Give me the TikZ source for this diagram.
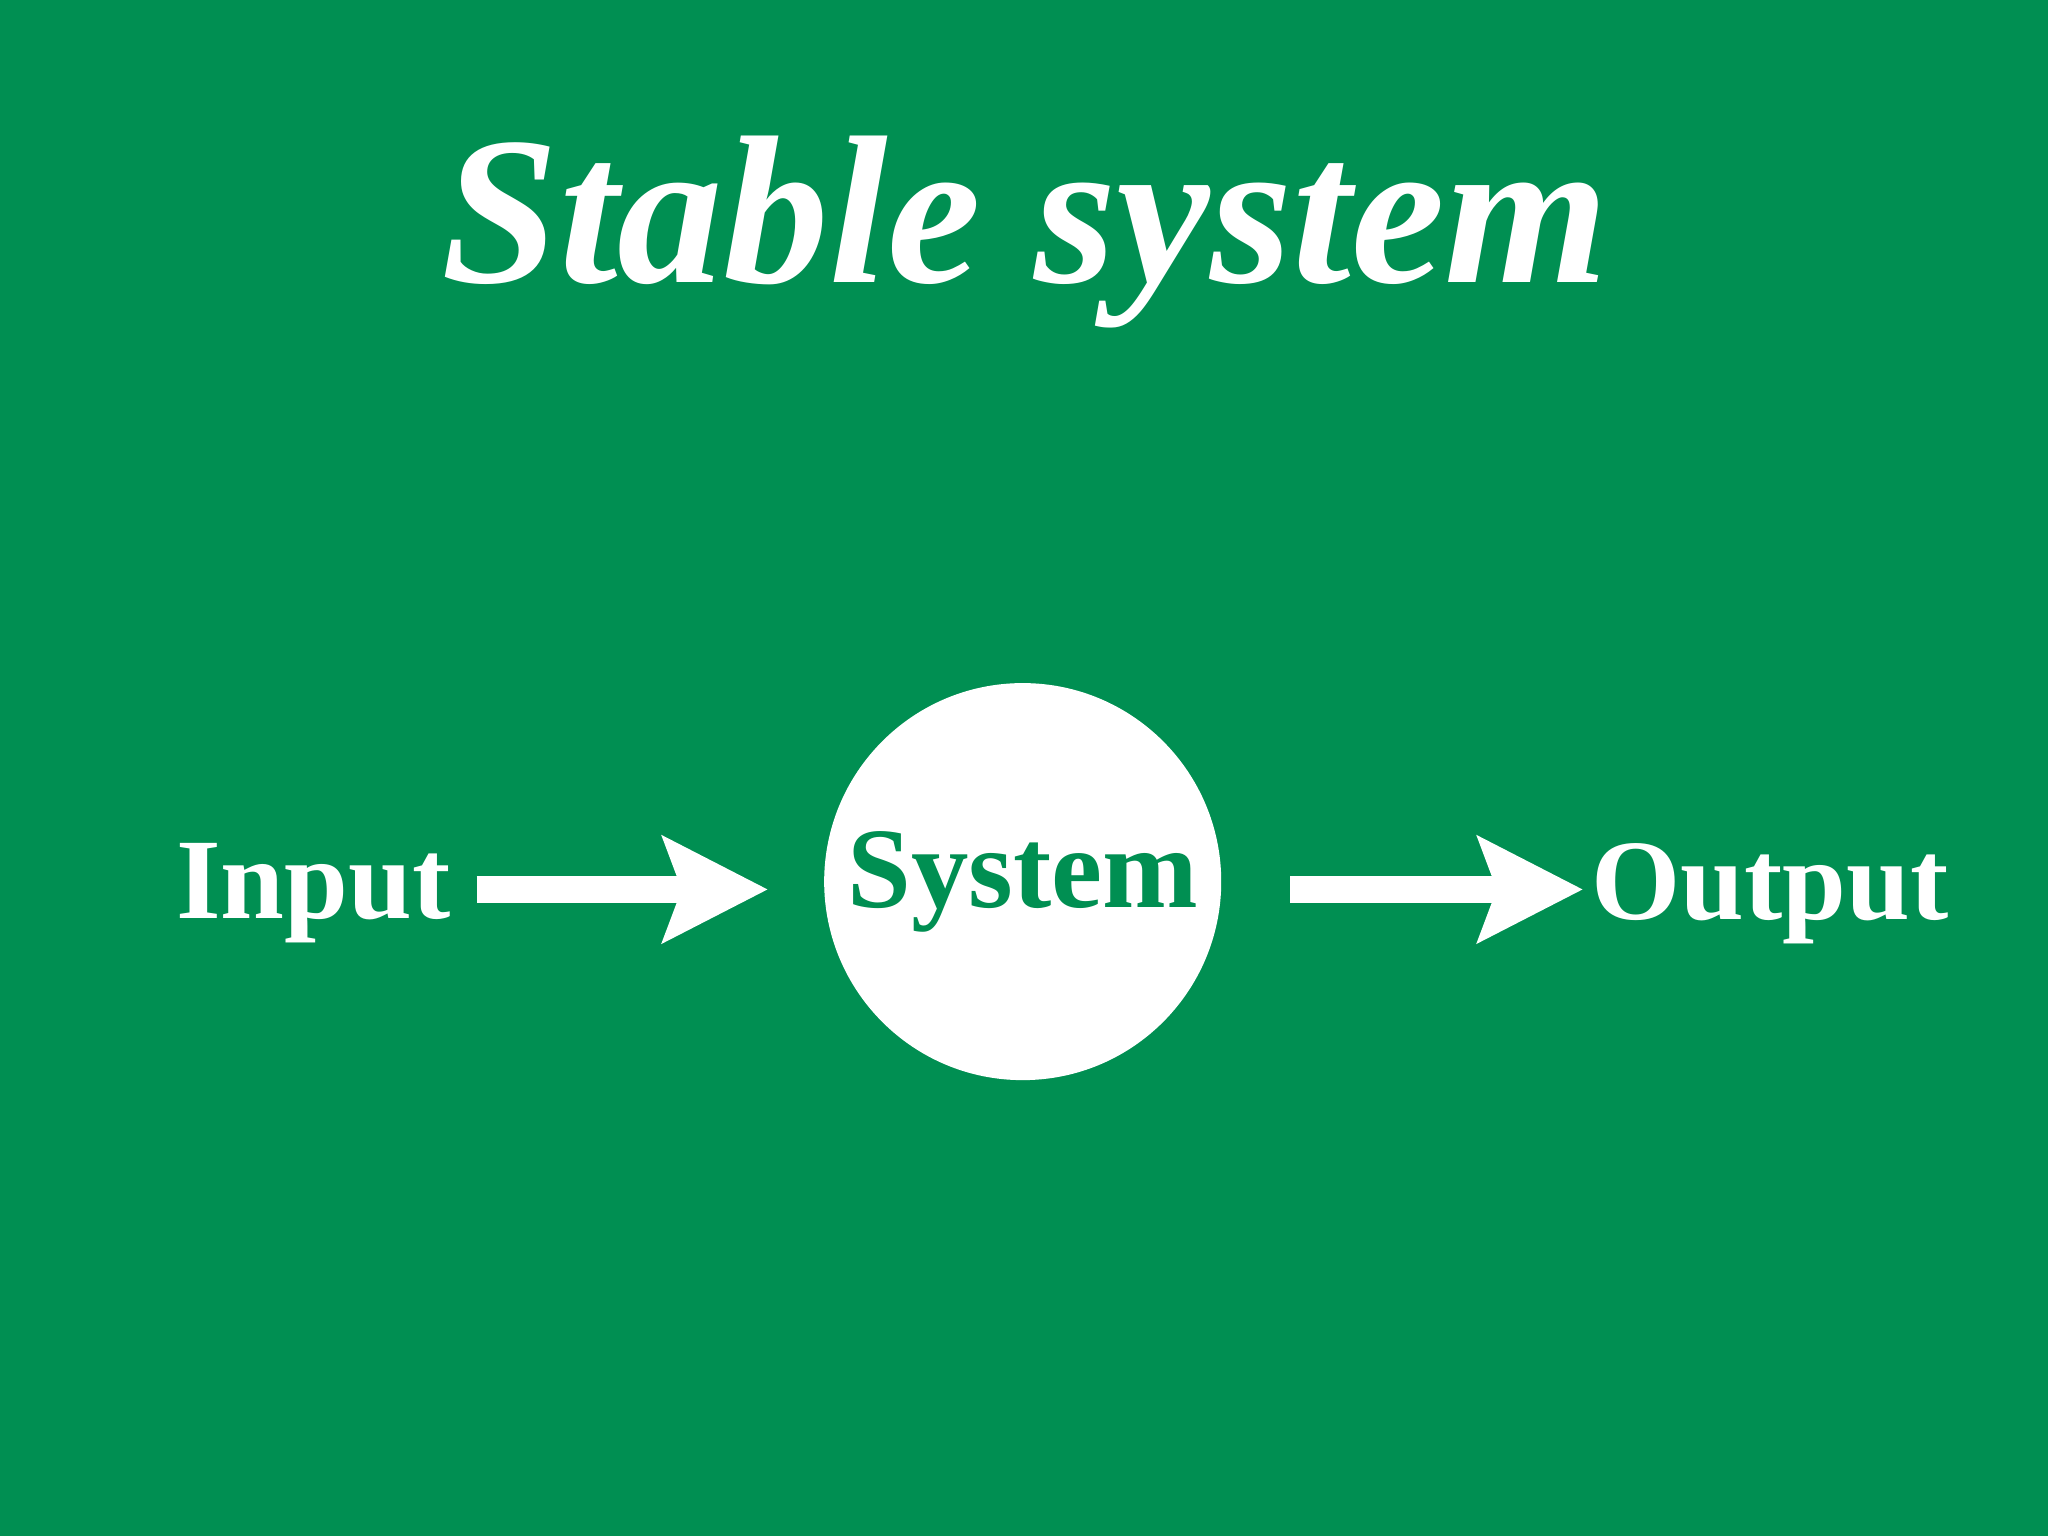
\documentclass[tikz,border=0pt]{standalone}
\usepackage{fontspec}
\setmainfont{Liberation Serif}
\usetikzlibrary{arrows.meta}
\definecolor{bg}{HTML}{008F52}
\tikzset{
  lbl/.style={text=white, font=\bfseries\fontsize{25}{30}\selectfont},
  flow/.style={white, line width=0.2cm, -{Stealth[length=0.8cm, width=0.8cm, inset=0.14cm]}}
}
\begin{document}
\begin{tikzpicture}
\fill[bg] (0,0) rectangle (15.68,11.76);
\useasboundingbox (0,0) rectangle (15.68,11.76);
\node[text=white, font=\bfseries\itshape\fontsize{46}{54}\selectfont] (title) at (7.85,9.98) {Stable system};
\node[circle, fill=white, minimum size=3.04cm, inner sep=0pt, text=bg, font=\bfseries\fontsize{25}{30}\selectfont] (sys) at (7.83,5.01) {System};
\node[lbl] (in) at (2.40,4.92) {Input};
\node[lbl] (out) at (13.55,4.92) {Output};
\coordinate (a1s) at (3.65,4.95);
\coordinate (a1e) at (5.88,4.95);
\coordinate (a2s) at (9.88,4.95);
\coordinate (a2e) at (12.12,4.95);
\draw[flow] (a1s) -- (a1e);
\draw[flow] (a2s) -- (a2e);
\end{tikzpicture}
\end{document}
